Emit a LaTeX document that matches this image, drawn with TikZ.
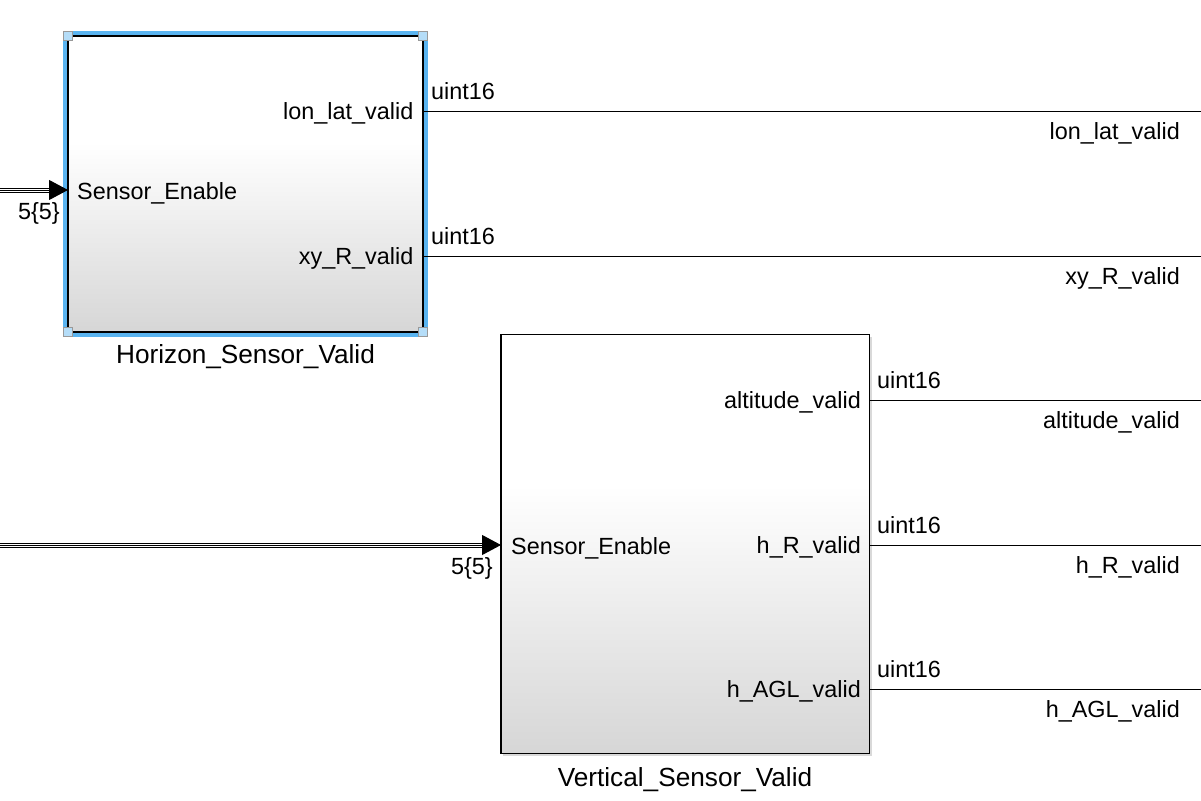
\documentclass[tikz,border=0pt]{standalone}
\usepackage{fontspec}
\setmainfont{Liberation Sans}
\usetikzlibrary{arrows.meta,shadows}

\pgfdeclareverticalshading{blockshade}{100bp}{color(0bp)=(gray!32); color(25bp)=(gray!32); color(57bp)=(white); color(100bp)=(white)}
\definecolor{selblue}{HTML}{5AB4F0}
\definecolor{handleblue}{HTML}{B5DDF8}

\tikzset{
  block/.style={draw=black, line width=1.5pt, inner sep=0pt, outer sep=0pt, shade, shading=blockshade},
  bus/.style={line width=5pt, postaction={draw=white, line width=3pt}, postaction={draw=black, line width=1pt}},
  intip/.style={-{Triangle[length=19pt,width=20pt]}, line width=1pt},
  sig/.style={line width=1pt},
  lbl/.style={font=\fontsize{23.4}{28}\selectfont, inner sep=0pt},
  blkname/.style={font=\fontsize{26.2}{30}\selectfont, inner sep=0pt},
  handle/.style={draw=gray!80, fill=handleblue, line width=1pt, minimum size=9pt, inner sep=0pt}
}

\begin{document}
\begin{tikzpicture}[x=1pt,y=-1pt]
\useasboundingbox (0,0) rectangle (1201,800);

%horizontaler block (markiert)
\node[block, line width=2pt, minimum width=355pt, minimum height=296pt, preaction={draw=selblue, line width=10pt}] (hor) at (245.5,184) {};
\foreach \c in {north west,north east,south west,south east}
  \node[handle] (h\c) at (hor.\c) {};
\node[blkname, anchor=base] (horname) at (245.5,363) {Horizon\_Sensor\_Valid};

%vertikaler block
\node[block, minimum width=368.5pt, minimum height=419pt, drop shadow={shadow xshift=2pt, shadow yshift=-2pt, opacity=0.3}] (ver) at (685.25,544) {};
\node[blkname, anchor=base] (vername) at (685,786) {Vertical\_Sensor\_Valid};

%eingang horizontal
\coordinate (hin) at (0,190);
\coordinate (hbase) at (49,190);
\coordinate (hport) at (hor.west |- hbase);
\draw[bus] (hin) -- (hbase);
\draw[intip] (hbase) -- (hport);
\node[lbl, anchor=base west] (hen) at (77,199) {Sensor\_Enable};
\node[lbl, anchor=base east] (hdim) at (60,219) {5\{5\}};

%eingang vertikal
\coordinate (vin) at (0,545);
\coordinate (vbase) at (482,545);
\coordinate (vport) at (ver.west |- vbase);
\draw[bus] (vin) -- (vbase);
\draw[intip] (vbase) -- (vport);
\node[lbl, anchor=base west] (ven) at (511,554) {Sensor\_Enable};
\node[lbl, anchor=base east] (vdim) at (493,574) {5\{5\}};

%ausgaenge horizontal
\foreach \y/\name [count=\i] in {111/lon\_lat\_valid, 256/xy\_R\_valid} {
  \coordinate (ho\i) at (hor.east |- 0,\y);
  \coordinate (hr\i) at (1201,\y);
  \draw[sig] (ho\i) -- (hr\i);
  \node[lbl, anchor=base east] (hpl\i) at (413.5,\y+8.5) {\name};
  \node[lbl, anchor=base west] (hty\i) at (431,\y-12) {uint16};
  \node[lbl, anchor=base east] (hsn\i) at (1180,\y+28.5) {\name};
}

%ausgaenge vertikal
\foreach \y/\name [count=\i] in {400/altitude\_valid, 545/h\_R\_valid, 689/h\_AGL\_valid} {
  \coordinate (vo\i) at (ver.east |- 0,\y);
  \coordinate (vr\i) at (1201,\y);
  \draw[sig] (vo\i) -- (vr\i);
  \node[lbl, anchor=base east] (vpl\i) at (861,\y+8.5) {\name};
  \node[lbl, anchor=base west] (vty\i) at (877,\y-12) {uint16};
  \node[lbl, anchor=base east] (vsn\i) at (1180,\y+28.5) {\name};
}
\end{tikzpicture}
\end{document}
